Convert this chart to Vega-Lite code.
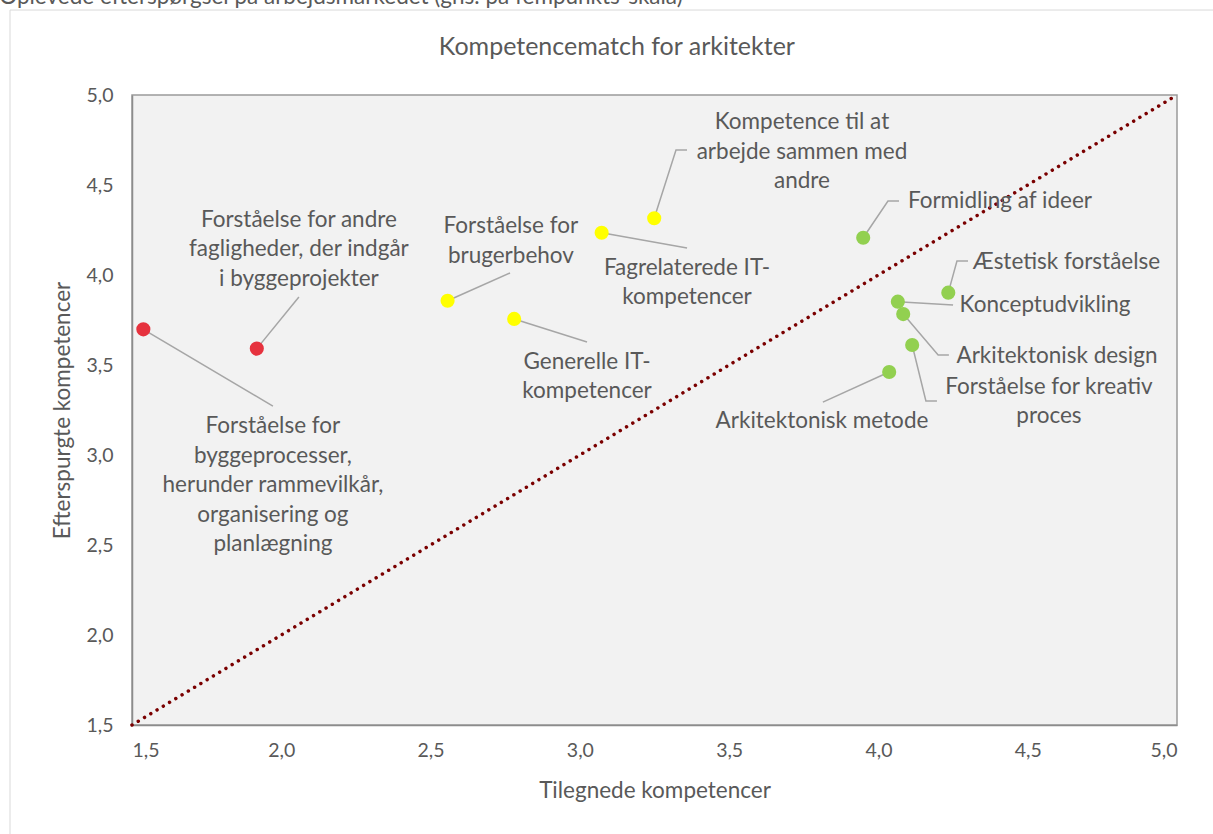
{
  "$schema": "https://vega.github.io/schema/vega-lite/v6.json",
  "width": 1045,
  "height": 630,
  "autosize": {"type": "none"},
  "padding": {"left": 132, "top": 95, "right": 36, "bottom": 109},
  "background": "white",
  "config": {
    "view": {"fill": "#f2f2f2", "stroke": "#9a9a9a", "strokeWidth": 1.5},
    "font": "Lato",
    "text": {"font": "Lato"}
  },
  "datasets": {
    "points": [
      {"kompetence": "Forståelse for byggeprocesser, herunder rammevilkår, organisering og planlægning", "gruppe": "rød", "tilegnet": 1.538, "efterspurgt": 3.698, "label": "Forståelse for\nbyggeprocesser,\nherunder rammevilkår,\norganisering og\nplanlægning", "lx": 1.972, "ly": 3.161},
      {"kompetence": "Forståelse for andre fagligheder, der indgår i byggeprojekter", "gruppe": "rød", "tilegnet": 1.918, "efterspurgt": 3.591, "label": "Forståelse for andre\nfagligheder, der indgår\ni byggeprojekter", "lx": 2.059, "ly": 4.306},
      {"kompetence": "Forståelse for brugerbehov", "gruppe": "gul", "tilegnet": 2.557, "efterspurgt": 3.857, "label": "Forståelse for\nbrugerbehov", "lx": 2.769, "ly": 4.272},
      {"kompetence": "Generelle IT-kompetencer", "gruppe": "gul", "tilegnet": 2.780, "efterspurgt": 3.756, "label": "Generelle IT-\nkompetencer", "lx": 3.024, "ly": 3.517},
      {"kompetence": "Fagrelaterede IT-kompetencer", "gruppe": "gul", "tilegnet": 3.073, "efterspurgt": 4.235, "label": "Fagrelaterede IT-\nkompetencer", "lx": 3.359, "ly": 4.039},
      {"kompetence": "Kompetence til at arbejde sammen med andre", "gruppe": "gul", "tilegnet": 3.249, "efterspurgt": 4.315, "label": "Kompetence til at\narbejde sammen med\nandre", "lx": 3.744, "ly": 4.85},
      {"kompetence": "Formidling af ideer", "gruppe": "grøn", "tilegnet": 3.949, "efterspurgt": 4.207, "label": "Formidling af ideer", "lx": 4.407, "ly": 4.411},
      {"kompetence": "Æstetisk forståelse", "gruppe": "grøn", "tilegnet": 4.234, "efterspurgt": 3.902, "label": "Æstetisk forståelse", "lx": 4.630, "ly": 4.072},
      {"kompetence": "Konceptudvikling", "gruppe": "grøn", "tilegnet": 4.065, "efterspurgt": 3.852, "label": "Konceptudvikling", "lx": 4.558, "ly": 3.833},
      {"kompetence": "Arkitektonisk design", "gruppe": "grøn", "tilegnet": 4.083, "efterspurgt": 3.783, "label": "Arkitektonisk design", "lx": 4.598, "ly": 3.55},
      {"kompetence": "Forståelse for kreativ proces", "gruppe": "grøn", "tilegnet": 4.113, "efterspurgt": 3.611, "label": "Forståelse for kreativ\nproces", "lx": 4.571, "ly": 3.378},
      {"kompetence": "Arkitektonisk metode", "gruppe": "grøn", "tilegnet": 4.036, "efterspurgt": 3.461, "label": "Arkitektonisk metode", "lx": 3.811, "ly": 3.189}
    ],
    "leaders": [
      {"id": 1, "ord": 1, "x": 1.538, "y": 3.698}, {"id": 1, "ord": 2, "x": 1.972, "y": 3.272},
      {"id": 2, "ord": 1, "x": 1.918, "y": 3.591}, {"id": 2, "ord": 2, "x": 2.059, "y": 3.878},
      {"id": 3, "ord": 1, "x": 2.557, "y": 3.857}, {"id": 3, "ord": 2, "x": 2.766, "y": 4.011},
      {"id": 4, "ord": 1, "x": 2.780, "y": 3.756}, {"id": 4, "ord": 2, "x": 3.024, "y": 3.628},
      {"id": 5, "ord": 1, "x": 3.073, "y": 4.235}, {"id": 5, "ord": 2, "x": 3.359, "y": 4.15},
      {"id": 6, "ord": 1, "x": 3.249, "y": 4.315}, {"id": 6, "ord": 2, "x": 3.322, "y": 4.694}, {"id": 6, "ord": 3, "x": 3.359, "y": 4.694},
      {"id": 7, "ord": 1, "x": 3.949, "y": 4.207}, {"id": 7, "ord": 2, "x": 4.032, "y": 4.411}, {"id": 7, "ord": 3, "x": 4.069, "y": 4.411},
      {"id": 8, "ord": 1, "x": 4.234, "y": 3.902}, {"id": 8, "ord": 2, "x": 4.263, "y": 4.078}, {"id": 8, "ord": 3, "x": 4.300, "y": 4.078},
      {"id": 9, "ord": 1, "x": 4.065, "y": 3.852}, {"id": 9, "ord": 2, "x": 4.250, "y": 3.833},
      {"id": 10, "ord": 1, "x": 4.083, "y": 3.783}, {"id": 10, "ord": 2, "x": 4.200, "y": 3.556}, {"id": 10, "ord": 3, "x": 4.236, "y": 3.556},
      {"id": 11, "ord": 1, "x": 4.113, "y": 3.611}, {"id": 11, "ord": 2, "x": 4.159, "y": 3.3}, {"id": 11, "ord": 3, "x": 4.196, "y": 3.3},
      {"id": 12, "ord": 1, "x": 4.036, "y": 3.461}, {"id": 12, "ord": 2, "x": 3.814, "y": 3.294}
    ],
    "diagonal": [
      {"x": 1.5, "y": 1.5},
      {"x": 5.0, "y": 5.0}
    ]
  },
  "layer": [
    {
      "data": {"values": [{"tekst": "Oplevede efterspørgsel på arbejdsmarkedet (gns. på fempunkts-skala)"}]},
      "mark": {"type": "text", "align": "left", "baseline": "alphabetic", "fontSize": 22.5, "color": "#595959"},
      "encoding": {
        "x": {"datum": 1.055, "type": "quantitative", "scale": {"domain": [1.5, 5], "nice": false, "zero": false}},
        "y": {"datum": 5.506, "type": "quantitative", "scale": {"domain": [1.5, 5], "nice": false, "zero": false}},
        "text": {"field": "tekst"}
      }
    },
    {
      "data": {"values": [{"tekst": "Kompetencematch for arkitekter"}]},
      "mark": {"type": "text", "align": "center", "baseline": "middle", "fontSize": 25, "color": "#595959"},
      "encoding": {
        "x": {"datum": 3.124, "type": "quantitative"},
        "y": {"datum": 5.267, "type": "quantitative"},
        "text": {"field": "tekst"}
      }
    },
    {
      "data": {"values": [{}]},
      "mark": {"type": "rect", "fill": "transparent", "stroke": "#d9d9d9", "strokeWidth": 1},
      "encoding": {
        "x": {"datum": 1.0914, "type": "quantitative"},
        "x2": {"datum": 5.6},
        "y": {"datum": 5.472, "type": "quantitative"},
        "y2": {"datum": 0.5}
      }
    },
    {
      "data": {"name": "diagonal"},
      "mark": {"type": "line", "color": "#7a0000", "strokeWidth": 3.5, "strokeDash": [0.01, 7.3], "strokeCap": "round"},
      "encoding": {
        "x": {"field": "x", "type": "quantitative", "scale": {"domain": [1.5, 5], "nice": false, "zero": false},
          "axis": {"values": [1.5, 2, 2.5, 3, 3.5, 4, 4.5, 5], "labelExpr": "replace(format(datum.value, '.1f'), '.', ',')", "grid": false, "ticks": false, "domainColor": "#8c8c8c", "domainWidth": 1.5, "labelFontSize": 19.5, "labelColor": "#595959", "labelPadding": 16, "labelFont": "Lato", "title": "Tilegnede kompetencer", "titleFontSize": 22.5, "titleFontWeight": "normal", "titleColor": "#595959", "titleFont": "Lato", "titlePadding": 20}},
        "y": {"field": "y", "type": "quantitative", "scale": {"domain": [1.5, 5], "nice": false, "zero": false},
          "axis": {"values": [1.5, 2, 2.5, 3, 3.5, 4, 4.5, 5], "labelExpr": "replace(format(datum.value, '.1f'), '.', ',')", "grid": false, "ticks": false, "domainColor": "#8c8c8c", "domainWidth": 1.5, "labelFontSize": 19.5, "labelColor": "#595959", "labelPadding": 19, "labelFont": "Lato", "title": "Efterspurgte kompetencer", "titleFontSize": 22.5, "titleFontWeight": "normal", "titleColor": "#595959", "titleFont": "Lato", "titlePadding": 11}}
      }
    },
    {
      "data": {"name": "leaders"},
      "mark": {"type": "line", "color": "#a6a6a6", "strokeWidth": 1.5},
      "encoding": {
        "x": {"field": "x", "type": "quantitative"},
        "y": {"field": "y", "type": "quantitative"},
        "detail": {"field": "id"},
        "order": {"field": "ord"}
      }
    },
    {
      "data": {"name": "points"},
      "mark": {"type": "circle", "size": 200, "opacity": 1},
      "encoding": {
        "x": {"field": "tilegnet", "type": "quantitative"},
        "y": {"field": "efterspurgt", "type": "quantitative"},
        "color": {"field": "gruppe", "type": "nominal", "scale": {"domain": ["rød", "gul", "grøn"], "range": ["#e6323e", "#ffff00", "#92d050"]}, "legend": null}
      }
    },
    {
      "data": {"name": "points"},
      "mark": {"type": "text", "align": "center", "baseline": "middle", "fontSize": 22.5, "color": "#595959", "lineBreak": "\n", "lineHeight": 29.5},
      "encoding": {
        "x": {"field": "lx", "type": "quantitative"},
        "y": {"field": "ly", "type": "quantitative"},
        "text": {"field": "label"}
      }
    }
  ]
}
